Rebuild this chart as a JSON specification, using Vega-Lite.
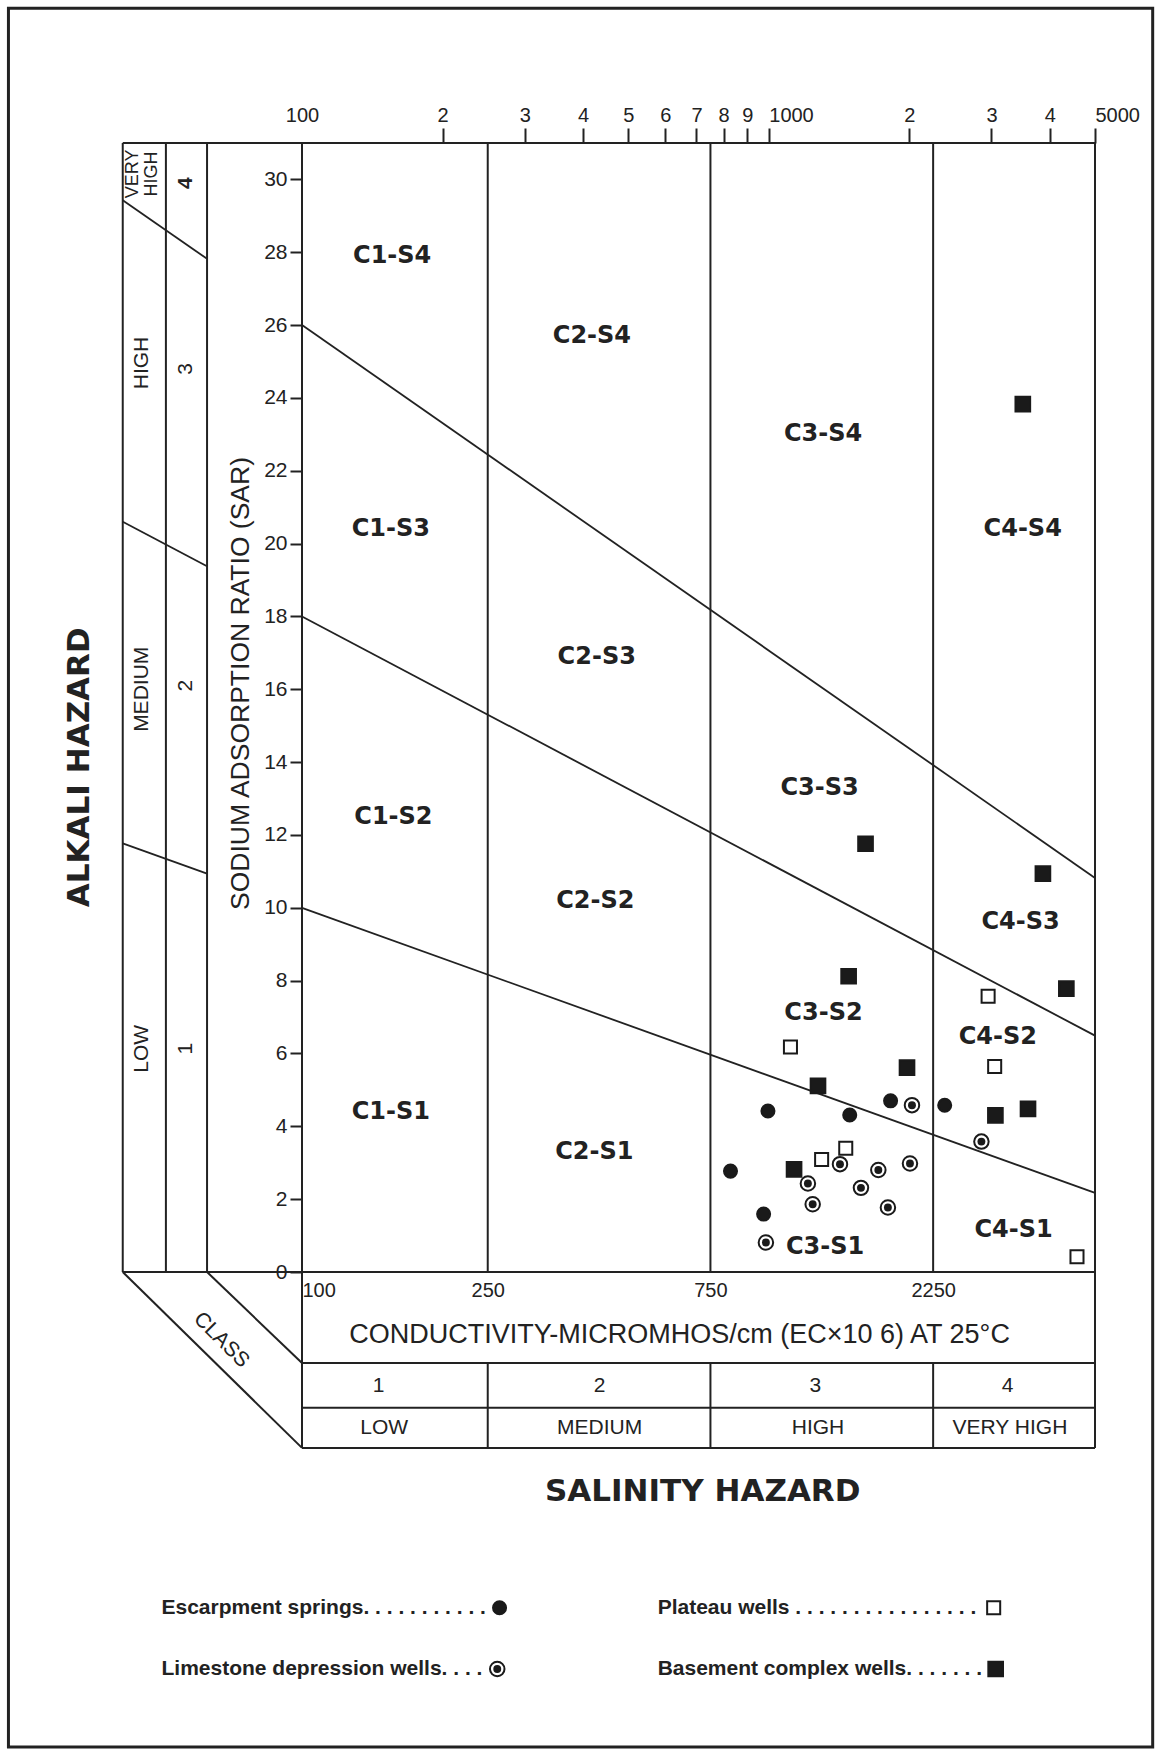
{
  "$schema": "https://vega.github.io/schema/vega-lite/v6.json",
  "width": 793,
  "height": 1129,
  "autosize": {"type": "none"},
  "padding": {"left": 302, "top": 143, "right": 62, "bottom": 478},
  "background": "white",
  "config": {
    "view": {"stroke": "#222", "strokeWidth": 2},
    "font": "Liberation Sans",
    "axis": {"labelFont": "Liberation Sans", "labelColor": "#222", "tickColor": "#222", "tickWidth": 2, "grid": false, "domain": false, "titleColor": "#222", "titleFont": "Liberation Sans"}
  },
  "datasets": {
    "lines": [
      {"part": "frame", "x": 41.3, "y": 0, "x2": 41.3, "y2": 31},
      {"part": "frame", "x": 51.1, "y": 0, "x2": 51.1, "y2": 31},
      {"part": "frame", "x": 62.6, "y": 0, "x2": 62.6, "y2": 31},
      {"part": "frame", "x": 41.3, "y": 31, "x2": 100, "y2": 31},
      {"part": "frame", "x": 41.3, "y": 0, "x2": 100, "y2": 0},
      {"part": "frame", "x": 250, "y": 0, "x2": 250, "y2": 31},
      {"part": "frame", "x": 750, "y": 0, "x2": 750, "y2": 31},
      {"part": "frame", "x": 2250, "y": 0, "x2": 2250, "y2": 31},
      {"part": "frame", "x": 100, "y": 0, "x2": 100, "y2": -4.83},
      {"part": "frame", "x": 5000, "y": 0, "x2": 5000, "y2": -4.83},
      {"part": "frame", "x": 100, "y": -2.5, "x2": 5000, "y2": -2.5},
      {"part": "frame", "x": 100, "y": -3.73, "x2": 5000, "y2": -3.73},
      {"part": "frame", "x": 100, "y": -4.83, "x2": 5000, "y2": -4.83},
      {"part": "frame", "x": 250, "y": -2.5, "x2": 250, "y2": -4.83},
      {"part": "frame", "x": 750, "y": -2.5, "x2": 750, "y2": -4.83},
      {"part": "frame", "x": 2250, "y": -2.5, "x2": 2250, "y2": -4.83},
      {"part": "frame", "x": 41.3, "y": 0, "x2": 100, "y2": -4.83},
      {"part": "frame", "x": 62.6, "y": 0, "x2": 100, "y2": -2.5},
      {"part": "sodium", "x": 41.3, "y": 29.43, "x2": 62.6, "y2": 27.82},
      {"part": "sodium", "x": 100, "y": 26, "x2": 5000, "y2": 10.82},
      {"part": "sodium", "x": 41.3, "y": 20.6, "x2": 62.6, "y2": 19.38},
      {"part": "sodium", "x": 100, "y": 18, "x2": 5000, "y2": 6.49},
      {"part": "sodium", "x": 41.3, "y": 11.77, "x2": 62.6, "y2": 10.94},
      {"part": "sodium", "x": 100, "y": 10, "x2": 5000, "y2": 2.17}
    ],
    "border": [{"x": 23.5, "x2": 6646, "y": 34.7, "y2": -13.04}],
    "labels": [
      {"g": "region", "text": "C1-S4", "x": 156, "y": 27.9},
      {"g": "region", "text": "C2-S4", "x": 418, "y": 25.7},
      {"g": "region", "text": "C3-S4", "x": 1307, "y": 23.0},
      {"g": "region", "text": "C4-S4", "x": 3500, "y": 20.4},
      {"g": "region", "text": "C1-S3", "x": 155, "y": 20.4},
      {"g": "region", "text": "C2-S3", "x": 428, "y": 16.9},
      {"g": "region", "text": "C3-S3", "x": 1285, "y": 13.3},
      {"g": "region", "text": "C4-S3", "x": 3464, "y": 9.6},
      {"g": "region", "text": "C1-S2", "x": 157, "y": 12.5},
      {"g": "region", "text": "C2-S2", "x": 425, "y": 10.2},
      {"g": "region", "text": "C3-S2", "x": 1310, "y": 7.1},
      {"g": "region", "text": "C4-S2", "x": 3095, "y": 6.45},
      {"g": "region", "text": "C1-S1", "x": 155, "y": 4.4},
      {"g": "region", "text": "C2-S1", "x": 423, "y": 3.3},
      {"g": "region", "text": "C3-S1", "x": 1320, "y": 0.7},
      {"g": "region", "text": "C4-S1", "x": 3345, "y": 1.15},
      {"g": "veryhigh", "text": "VERY\nHIGH", "x": 43.4, "y": 30.15},
      {"g": "panel", "text": "HIGH", "x": 45.4, "y": 24.96},
      {"g": "panel", "text": "MEDIUM", "x": 45.4, "y": 16.0},
      {"g": "panel", "text": "LOW", "x": 45.4, "y": 6.13},
      {"g": "panel", "text": "3", "x": 56.3, "y": 24.8},
      {"g": "panel", "text": "2", "x": 56.3, "y": 16.1},
      {"g": "panel", "text": "1", "x": 56.3, "y": 6.13},
      {"g": "panelbold", "text": "4", "x": 56.3, "y": 29.9},
      {"g": "class", "text": "1", "x": 146, "y": -3.13},
      {"g": "class", "text": "2", "x": 434, "y": -3.13},
      {"g": "class", "text": "3", "x": 1258, "y": -3.13},
      {"g": "class", "text": "4", "x": 3250, "y": -3.13},
      {"g": "class", "text": "LOW", "x": 150, "y": -4.28},
      {"g": "class", "text": "MEDIUM", "x": 434, "y": -4.28},
      {"g": "class", "text": "HIGH", "x": 1275, "y": -4.28},
      {"g": "class", "text": "VERY HIGH", "x": 3286, "y": -4.28},
      {"g": "cond", "text": "CONDUCTIVITY-MICROMHOS/cm (EC×10 6) AT 25°C", "x": 644, "y": -1.73},
      {"g": "classword", "text": "CLASS", "x": 67.2, "y": -1.87},
      {"g": "hazardY", "text": "ALKALI HAZARD", "x": 33.5, "y": 13.86},
      {"g": "hazardX", "text": "SALINITY HAZARD", "x": 722, "y": -6.04},
      {"g": "legend", "text": "Escarpment springs. . . . . . . . . . .", "x": 50, "y": -9.22},
      {"g": "legend", "text": "Limestone depression wells. . . .", "x": 50, "y": -10.9},
      {"g": "legend", "text": "Plateau wells . . . . . . . . . . . . . . . .", "x": 578, "y": -9.22},
      {"g": "legend", "text": "Basement complex wells. . . . . . .", "x": 578, "y": -10.9}
    ],
    "points": [
      {"source": "Escarpment springs", "x": 996, "y": 4.42},
      {"source": "Escarpment springs", "x": 1491, "y": 4.31},
      {"source": "Escarpment springs", "x": 1824, "y": 4.7},
      {"source": "Escarpment springs", "x": 2382, "y": 4.58},
      {"source": "Escarpment springs", "x": 828, "y": 2.77},
      {"source": "Escarpment springs", "x": 975, "y": 1.59},
      {"source": "Limestone depression wells", "x": 2027, "y": 4.58},
      {"source": "Limestone depression wells", "x": 2855, "y": 3.58},
      {"source": "Limestone depression wells", "x": 1421, "y": 2.96},
      {"source": "Limestone depression wells", "x": 1717, "y": 2.8},
      {"source": "Limestone depression wells", "x": 2007, "y": 2.98},
      {"source": "Limestone depression wells", "x": 1213, "y": 2.43},
      {"source": "Limestone depression wells", "x": 1576, "y": 2.31},
      {"source": "Limestone depression wells", "x": 1242, "y": 1.86},
      {"source": "Limestone depression wells", "x": 1800, "y": 1.77},
      {"source": "Limestone depression wells", "x": 986, "y": 0.81},
      {"source": "Plateau wells", "x": 1113, "y": 6.18},
      {"source": "Plateau wells", "x": 2951, "y": 7.57},
      {"source": "Plateau wells", "x": 3048, "y": 5.64},
      {"source": "Plateau wells", "x": 1462, "y": 3.4},
      {"source": "Plateau wells", "x": 1298, "y": 3.09},
      {"source": "Plateau wells", "x": 4575, "y": 0.42},
      {"source": "Basement complex wells", "x": 3502, "y": 23.83},
      {"source": "Basement complex wells", "x": 1612, "y": 11.76},
      {"source": "Basement complex wells", "x": 3867, "y": 10.94},
      {"source": "Basement complex wells", "x": 1483, "y": 8.12},
      {"source": "Basement complex wells", "x": 4341, "y": 7.78},
      {"source": "Basement complex wells", "x": 1978, "y": 5.61},
      {"source": "Basement complex wells", "x": 1275, "y": 5.11},
      {"source": "Basement complex wells", "x": 1133, "y": 2.82},
      {"source": "Basement complex wells", "x": 3059, "y": 4.3},
      {"source": "Basement complex wells", "x": 3593, "y": 4.48}
    ],
    "legendSymbols": [
      {"source": "Escarpment springs", "x": 265, "y": -9.22},
      {"source": "Limestone depression wells", "x": 262, "y": -10.9},
      {"source": "Plateau wells", "x": 3033, "y": -9.22},
      {"source": "Basement complex wells", "x": 3063, "y": -10.9}
    ]
  },
  "resolve": {"axis": {"x": "independent"}},
  "encoding": {
    "x": {"field": "x", "type": "quantitative", "scale": {"type": "log", "domain": [100, 5000], "nice": false}, "axis": null},
    "y": {"field": "y", "type": "quantitative", "scale": {"domain": [0, 31], "nice": false, "zero": false},
      "axis": {"orient": "left", "values": [0, 2, 4, 6, 8, 10, 12, 14, 16, 18, 20, 22, 24, 26, 28, 30], "tickSize": 12, "labelPadding": 3, "labelFontSize": 21, "labelOverlap": false, "labelFlush": false,
        "title": "SODIUM ADSORPTION RATIO (SAR)", "titleFontSize": 26.5, "titleFontWeight": "normal", "titleX": -62, "titleY": 540, "titleAngle": 270, "titleAlign": "center", "titleBaseline": "middle"}}
  },
  "layer": [
    {
      "data": {"name": "border"},
      "mark": {"type": "rect", "fill": "transparent", "stroke": "#222", "strokeWidth": 3},
      "encoding": {"x2": {"field": "x2"}, "y2": {"field": "y2"}}
    },
    {
      "data": {"name": "lines"},
      "transform": [{"filter": "datum.part == 'frame'"}],
      "mark": {"type": "rule", "color": "#222", "strokeWidth": 2},
      "encoding": {
        "x": {"field": "x", "type": "quantitative", "scale": {"type": "log", "domain": [100, 5000], "nice": false},
          "axis": {"orient": "top", "title": null, "values": [100, 200, 300, 400, 500, 600, 700, 800, 900, 1000, 2000, 3000, 4000, 5000], "tickSize": 15, "labelPadding": 3, "labelFontSize": 20, "labelFlush": false, "labelOverlap": false, "labelBound": false,
            "tickColor": {"condition": {"test": "datum.value == 100", "value": "transparent"}, "value": "#222"},
            "labelExpr": "datum.value == 100 || datum.value == 1000 || datum.value == 5000 ? '' + datum.value : (datum.value < 1000 ? '' + round(datum.value / 100) : '' + round(datum.value / 1000))",
            "labelAlign": {"condition": {"test": "datum.value == 1000 || datum.value == 5000", "value": "left"}, "value": "center"}}},
        "x2": {"field": "x2"},
        "y2": {"field": "y2"}
      }
    },
    {
      "data": {"name": "lines"},
      "transform": [{"filter": "datum.part == 'sodium'"}],
      "mark": {"type": "rule", "color": "#222", "strokeWidth": 1.8},
      "encoding": {
        "x": {"field": "x", "type": "quantitative", "scale": {"type": "log", "domain": [100, 5000], "nice": false},
          "axis": {"orient": "bottom", "title": null, "values": [100, 250, 750, 2250], "ticks": false, "labelPadding": 8, "labelFontSize": 20, "labelFlush": false, "labelOverlap": false, "labelBound": false,
            "labelExpr": "'' + datum.value",
            "labelAlign": {"condition": {"test": "datum.value == 100", "value": "left"}, "value": "center"}}},
        "x2": {"field": "x2"},
        "y2": {"field": "y2"}
      }
    },
    {
      "data": {"name": "labels"},
      "transform": [{"filter": "datum.g == 'region'"}],
      "mark": {"type": "text", "font": "DejaVu Sans", "fontWeight": "bold", "fontSize": 24, "color": "#222", "align": "center", "baseline": "middle"},
      "encoding": {"text": {"field": "text"}}
    },
    {
      "data": {"name": "labels"},
      "transform": [{"filter": "datum.g == 'panel'"}],
      "mark": {"type": "text", "font": "Liberation Sans", "fontSize": 21, "color": "#222", "align": "center", "baseline": "middle", "angle": 270},
      "encoding": {"text": {"field": "text"}}
    },
    {
      "data": {"name": "labels"},
      "transform": [{"filter": "datum.g == 'panelbold'"}],
      "mark": {"type": "text", "font": "Liberation Sans", "fontWeight": "bold", "fontSize": 21, "color": "#222", "align": "center", "baseline": "middle", "angle": 270},
      "encoding": {"text": {"field": "text"}}
    },
    {
      "data": {"name": "labels"},
      "transform": [{"filter": "datum.g == 'veryhigh'"}],
      "mark": {"type": "text", "font": "Liberation Sans", "fontSize": 18, "color": "#222", "align": "center", "baseline": "middle", "angle": 270, "lineBreak": "\n", "lineHeight": 19},
      "encoding": {"text": {"field": "text"}}
    },
    {
      "data": {"name": "labels"},
      "transform": [{"filter": "datum.g == 'class'"}],
      "mark": {"type": "text", "font": "Liberation Sans", "fontSize": 21, "color": "#222", "align": "center", "baseline": "middle"},
      "encoding": {"text": {"field": "text"}}
    },
    {
      "data": {"name": "labels"},
      "transform": [{"filter": "datum.g == 'cond'"}],
      "mark": {"type": "text", "font": "Liberation Sans", "fontSize": 27, "color": "#222", "align": "center", "baseline": "middle"},
      "encoding": {"text": {"field": "text"}}
    },
    {
      "data": {"name": "labels"},
      "transform": [{"filter": "datum.g == 'classword'"}],
      "mark": {"type": "text", "font": "Liberation Sans", "fontSize": 21, "color": "#222", "align": "center", "baseline": "middle", "angle": 45},
      "encoding": {"text": {"field": "text"}}
    },
    {
      "data": {"name": "labels"},
      "transform": [{"filter": "datum.g == 'hazardY'"}],
      "mark": {"type": "text", "font": "DejaVu Sans", "fontWeight": "bold", "fontSize": 31, "color": "#222", "align": "center", "baseline": "middle", "angle": 270},
      "encoding": {"text": {"field": "text"}}
    },
    {
      "data": {"name": "labels"},
      "transform": [{"filter": "datum.g == 'hazardX'"}],
      "mark": {"type": "text", "font": "DejaVu Sans", "fontWeight": "bold", "fontSize": 31, "color": "#222", "align": "center", "baseline": "middle"},
      "encoding": {"text": {"field": "text"}}
    },
    {
      "data": {"name": "labels"},
      "transform": [{"filter": "datum.g == 'legend'"}],
      "mark": {"type": "text", "font": "Liberation Sans", "fontWeight": "bold", "fontSize": 21, "color": "#222", "align": "left", "baseline": "middle"},
      "encoding": {"text": {"field": "text"}}
    },
    {
      "data": {"name": "points"},
      "mark": {"type": "point", "filled": true, "stroke": "#1a1a1a", "strokeWidth": 2, "opacity": 1, "fillOpacity": 1},
      "encoding": {
        "shape": {"field": "source", "type": "nominal", "scale": {"domain": ["Escarpment springs", "Limestone depression wells", "Plateau wells", "Basement complex wells"], "range": ["circle", "circle", "square", "square"]}, "legend": null},
        "fill": {"field": "source", "type": "nominal", "scale": {"domain": ["Escarpment springs", "Limestone depression wells", "Plateau wells", "Basement complex wells"], "range": ["#1a1a1a", "#ffffff", "#ffffff", "#1a1a1a"]}, "legend": null},
        "size": {"field": "source", "type": "ordinal", "scale": {"type": "ordinal", "domain": ["Escarpment springs", "Limestone depression wells", "Plateau wells", "Basement complex wells"], "range": [170, 210, 170, 215]}, "legend": null}
      }
    },
    {
      "data": {"name": "legendSymbols"},
      "mark": {"type": "point", "filled": true, "stroke": "#1a1a1a", "strokeWidth": 2, "opacity": 1, "fillOpacity": 1},
      "encoding": {
        "shape": {"field": "source", "type": "nominal", "scale": {"domain": ["Escarpment springs", "Limestone depression wells", "Plateau wells", "Basement complex wells"], "range": ["circle", "circle", "square", "square"]}, "legend": null},
        "fill": {"field": "source", "type": "nominal", "scale": {"domain": ["Escarpment springs", "Limestone depression wells", "Plateau wells", "Basement complex wells"], "range": ["#1a1a1a", "#ffffff", "#ffffff", "#1a1a1a"]}, "legend": null},
        "size": {"field": "source", "type": "ordinal", "scale": {"type": "ordinal", "domain": ["Escarpment springs", "Limestone depression wells", "Plateau wells", "Basement complex wells"], "range": [170, 210, 170, 215]}, "legend": null}
      }
    },
    {
      "data": {"name": "points"},
      "transform": [{"filter": "datum.source == 'Limestone depression wells'"}],
      "mark": {"type": "circle", "size": 62, "color": "#1a1a1a", "opacity": 1}
    },
    {
      "data": {"name": "legendSymbols"},
      "transform": [{"filter": "datum.source == 'Limestone depression wells'"}],
      "mark": {"type": "circle", "size": 62, "color": "#1a1a1a", "opacity": 1}
    }
  ]
}
